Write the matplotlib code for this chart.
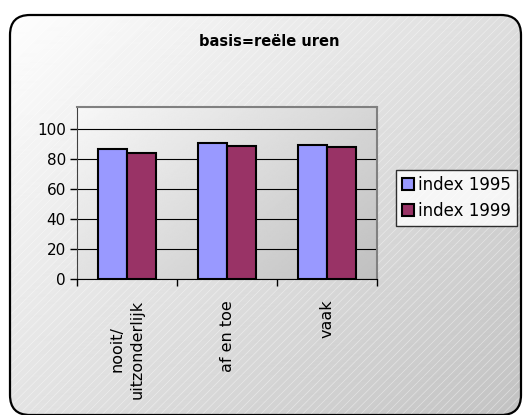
import matplotlib.pyplot as plt
import numpy as np
from matplotlib.patches import FancyBboxPatch

categories = ["nooit/\nuitzonderlijk", "af en toe", "vaak"]
index_1995 = [86.7, 91.1, 89.3]
index_1999 = [84.0, 88.9, 88.4]
yticks = [0, 20, 40, 60, 80, 100]

plt.rcParams["hatch.linewidth"] = 0.5

W, H = 528, 415
fig = plt.figure(figsize=(W / 100, H / 100), dpi=100)
fig.patch.set_facecolor("white")

# background panel with gradient, faint diagonal hatch and rounded border
bg = fig.add_axes([0, 0, 1, 1], zorder=-2)
bg.set_xlim(0, W)
bg.set_ylim(H, 0)
bg.axis("off")
yy, xx = np.mgrid[0:H, 0:W]
t = (xx / W * 0.55 + yy / H * 0.45)
grad = 1.0 - 0.24 * t
img = bg.imshow(grad, cmap="gray", vmin=0, vmax=1, extent=(0, W, H, 0),
                aspect="auto", interpolation="bilinear")
box = dict(boxstyle="round,pad=0,rounding_size=20")
hatch = FancyBboxPatch((10, 15), 511, 400, facecolor="none",
                       edgecolor=(1, 1, 1, 0.45), linewidth=0, hatch="////", **box)
bg.add_patch(hatch)
frame = FancyBboxPatch((10, 15), 511, 400, facecolor="none",
                       edgecolor="black", linewidth=1.6, zorder=5, **box)
bg.add_patch(frame)
img.set_clip_path(frame)

ax = fig.add_axes([77 / W, 1 - 279 / H, 300 / W, 172 / H])
ax.set_xlim(0, 3)
ax.set_ylim(0, 115)

# plot area gradient (light top-left, darker bottom-right)
g = np.linspace(0, 1, 200)
pa = 0.97 - 0.22 * (g[None, :] * 0.6 + g[:, None] * 0.4)
ax.imshow(pa, cmap="gray", vmin=0, vmax=1, extent=(0, 1, 0, 1),
          transform=ax.transAxes, aspect="auto", zorder=0, interpolation="bilinear")

x = np.arange(len(categories)) + 0.5
w = 0.29
ax.bar(x - w / 2, index_1995, w, color="#9999FF", edgecolor="black",
       linewidth=1.5, label="index 1995", zorder=3)
ax.bar(x + w / 2, index_1999, w, color="#993366", edgecolor="black",
       linewidth=1.5, label="index 1999", zorder=3)

ax.set_yticks(yticks)
ax.yaxis.grid(True, color="black", linewidth=0.8, zorder=1)
ax.set_axisbelow(True)
ax.set_xticks([0, 1, 2, 3])
ax.set_xticklabels([])
ax.set_xticks(x, minor=True)
ax.set_xticklabels(categories, minor=True, rotation=90, fontsize=11.5,
                   linespacing=1.45)
ax.tick_params(axis="x", which="minor", length=0, pad=15)
ax.tick_params(axis="x", which="major", length=5, width=1, direction="out")
ax.tick_params(axis="y", length=5, width=1, labelsize=11, pad=3)
for s in ("top", "right"):
    ax.spines[s].set_color("#808080")
    ax.spines[s].set_linewidth(1.5)
ax.spines["left"].set_color("#404040")
ax.spines["bottom"].set_color("black")

fig.text(269 / W, 1 - 42 / H, "basis=reële uren", ha="center", va="center",
         fontsize=10.5, fontweight="bold")

leg = fig.legend(loc="center left", bbox_to_anchor=(396 / W, 1 - 198 / H),
                 fontsize=12, frameon=True, fancybox=False, edgecolor="black",
                 handlelength=0.75, handleheight=0.75, handletextpad=0.25,
                 borderpad=0.35, labelspacing=0.5, borderaxespad=0)
leg.get_frame().set_linewidth(1.0)
leg.get_frame().set_facecolor("white")

fig.savefig("out.png", dpi=100)
